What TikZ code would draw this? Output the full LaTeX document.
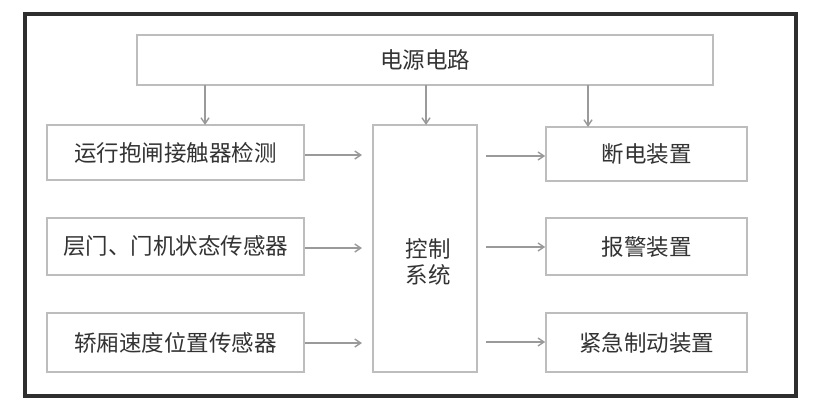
\documentclass[tikz,border=0pt]{standalone}
\usepackage{fontspec}
\setmainfont{Noto Sans CJK SC}
\usetikzlibrary{arrows.meta}
\definecolor{boxgray}{HTML}{BDBDBD}
\definecolor{arrgray}{HTML}{9A9A9A}
\definecolor{txtgray}{HTML}{333333}
\definecolor{framegray}{HTML}{2E2E2E}
\begin{document}
\begin{tikzpicture}[x=1pt,y=-1pt,
  blk/.style={draw=boxgray, line width=1.6pt, fill=white, text=txtgray, font=\fontsize{22.5}{26}\selectfont},
  arr/.style={draw=arrgray, line width=1.4pt, -{Straight Barb[length=6pt,width=8pt]}}]
\useasboundingbox[fill=white] (0,0) rectangle (818,410);
\draw[framegray, line width=3.5pt] (25,14) rectangle (796,396);
% boxes
\node[blk, minimum width=576pt, minimum height=50pt, inner sep=0pt] (pwr) at (425,60) {电源电路};
\node[blk, minimum width=257pt, minimum height=55pt, inner sep=0pt] (l1) at (175.5,152.5) {运行抱闸接触器检测};
\node[blk, minimum width=257pt, minimum height=57pt, inner sep=0pt] (l2) at (175.5,246.5) {层门、门机状态传感器};
\node[blk, minimum width=257pt, minimum height=59pt, inner sep=0pt] (l3) at (175.5,342.5) {轿厢速度位置传感器};
\node[blk, minimum width=104pt, minimum height=247pt, inner sep=0pt] (ctl) at (425,248.5) {};
\node[text=txtgray, font=\fontsize{22.5}{26}\selectfont, align=center] (ctltxt) at (428,262) {控制\\系统};
\node[blk, minimum width=201pt, minimum height=54pt, inner sep=0pt] (r1) at (646.5,154) {断电装置};
\node[blk, minimum width=201pt, minimum height=57pt, inner sep=0pt] (r2) at (646.5,246.5) {报警装置};
\node[blk, minimum width=201pt, minimum height=59pt, inner sep=0pt] (r3) at (646.5,342.5) {紧急制动装置};
% arrow endpoints
\coordinate (p1) at (205,85); \coordinate (q1) at (205,125);
\coordinate (p2) at (426,85); \coordinate (q2) at (426,125);
\coordinate (p3) at (588,85); \coordinate (q3) at (588,127);
\draw[arr] (p1) -- (q1);
\draw[arr] (p2) -- (q2);
\draw[arr] (p3) -- (q3);
\coordinate (a1) at (362,155); \coordinate (a2) at (362,248); \coordinate (a3) at (362,343);
\draw[arr] (l1.east |- a1) -- (a1);
\draw[arr] (l2.east |- a2) -- (a2);
\draw[arr] (l3.east |- a3) -- (a3);
\coordinate (b1) at (486,156); \coordinate (b2) at (486,247); \coordinate (b3) at (486,342);
\draw[arr] (b1) -- (r1.west |- b1);
\draw[arr] (b2) -- (r2.west |- b2);
\draw[arr] (b3) -- (r3.west |- b3);
\end{tikzpicture}
\end{document}
